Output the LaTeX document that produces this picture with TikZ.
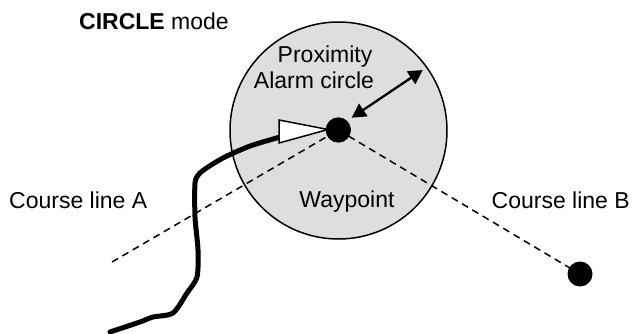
\documentclass[tikz,border=0pt]{standalone}
\usepackage{fontspec}
\setmainfont{Liberation Sans}
\usetikzlibrary{arrows.meta}
\definecolor{zonegray}{HTML}{DEDEDE}
\tikzset{
  lbl/.style={inner sep=0pt, font=\fontsize{23}{26.5}\selectfont, anchor=base west},
  lblc/.style={inner sep=0pt, font=\fontsize{23}{26.5}\selectfont, anchor=base},
  dotnode/.style={circle, fill=black, inner sep=0pt, minimum size=25pt},
  course/.style={line width=1.5pt, dash pattern=on 7pt off 5pt},
  track/.style={line width=5pt, line join=round, line cap=round},
}
\begin{document}
\begin{tikzpicture}[x=1pt, y=-1pt]
\useasboundingbox (0,0) rectangle (635,334);
% proximity alarm circle
\node[circle, draw=black, line width=1.5pt, fill=zonegray, minimum size=217pt, inner sep=0pt] (zone) at (338.5,130.5) {};
% course lines
\coordinate (startA) at (112,262);
\node[dotnode] (endB) at (580,274) {};
\node[dotnode] (wp) at (338.3,130) {};
\draw[course] (startA) -- (wp.center);
\draw[course] (wp.center) -- (endB.center);
% track
\draw[track] plot[smooth, tension=0.45] coordinates {
 (110,332) (140,322) (153,317) (173,313) (187,293) (197,277) (198,250)
 (195,217) (195,183) (199,174) (208,167) (223,158) (238,151) (253,145) (280,137)};
% boat triangle
\coordinate (b1) at (279,120);
\coordinate (b2) at (279,143);
\coordinate (bt) at (328,129.5);
\draw[fill=white, line width=1.5pt, line join=miter] (b1) -- (bt) -- (b2) -- cycle;
\node[dotnode] (wp2) at (338.3,130) {};
% radius arrow
\coordinate (ra) at (351.7,117.7);
\coordinate (rb) at (422.7,70);
\draw[line width=2.3pt, {Triangle[length=14pt,width=15pt]}-{Triangle[length=14pt,width=15pt]}] (ra) -- (rb);
% texts
\node[lbl] (title) at (79,30) {\textbf{CIRCLE} mode};
\node[lblc] (prox) at (325,63) {Proximity};
\node[lblc] (alarm) at (314,88.5) {Alarm circle};
\node[lblc] (wpl) at (347,207.5) {Waypoint};
\node[lbl] (cla) at (9,208.5) {Course line A};
\node[lbl] (clb) at (491.5,208.5) {Course line B};
\end{tikzpicture}
\end{document}
